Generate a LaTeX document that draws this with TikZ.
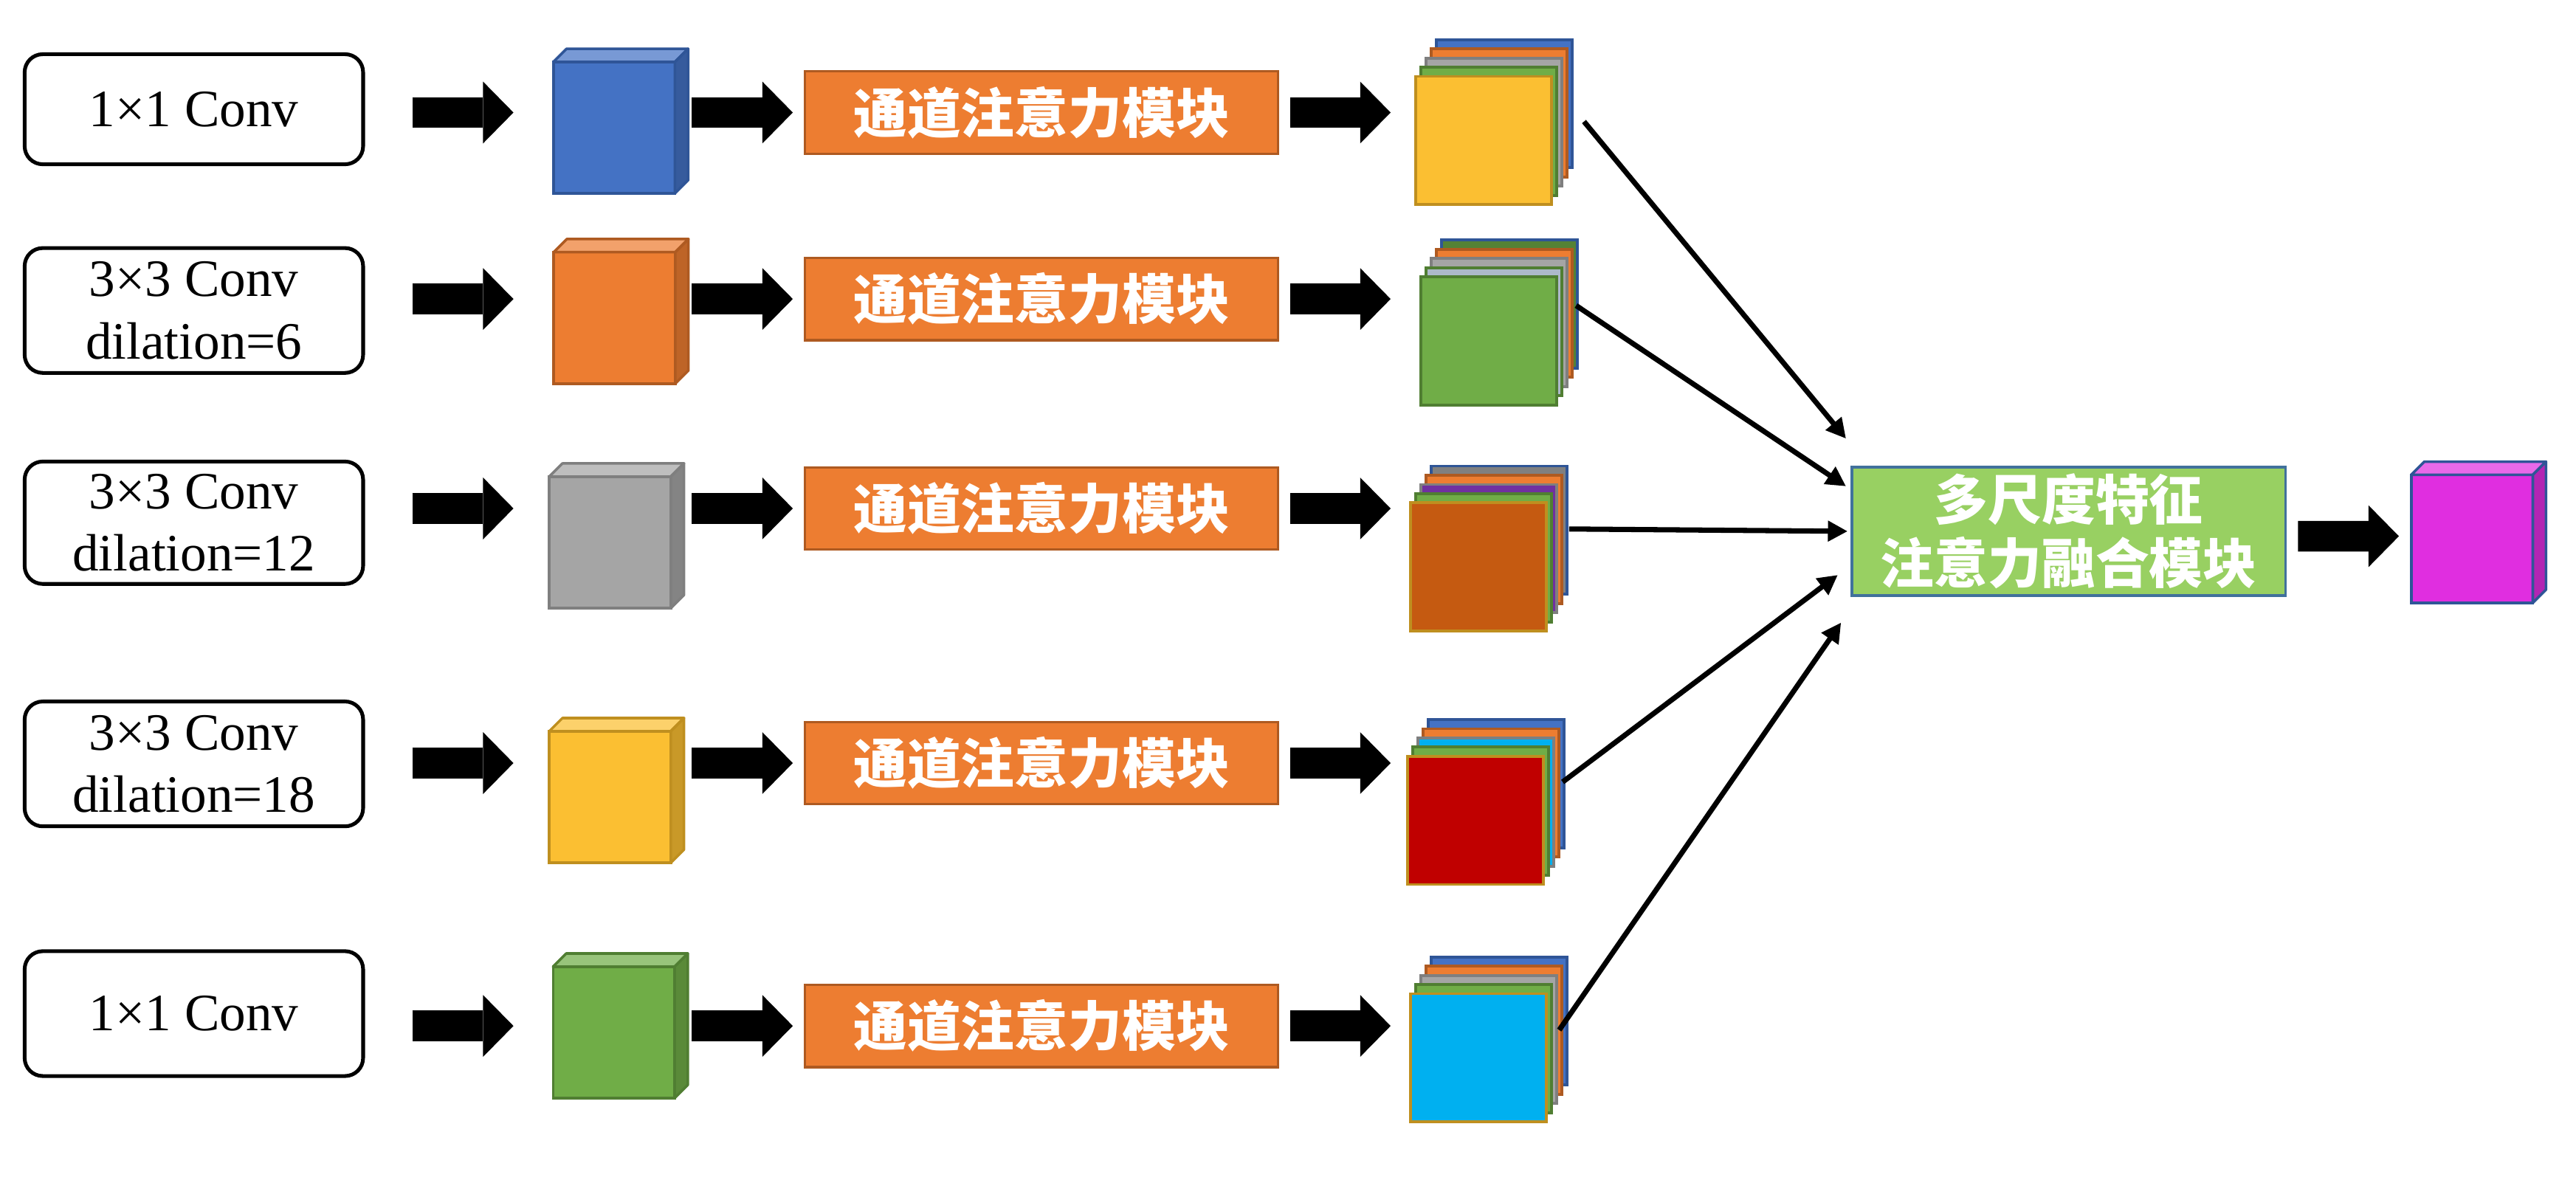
\documentclass[tikz,border=0pt]{standalone}
\usepackage{fontspec}
\setmainfont{Liberation Serif}
\newfontfamily\cjkfont{Noto Sans CJK SC}
\usetikzlibrary{arrows.meta}
\usetikzlibrary{calc}

\definecolor{cblue}{HTML}{4472C4}
\definecolor{cblueD}{HTML}{2F5597}
\definecolor{corange}{HTML}{ED7D31}
\definecolor{corangeD}{HTML}{AE5A21}
\definecolor{cgray}{HTML}{A5A5A5}
\definecolor{cgrayD}{HTML}{7F7F7F}
\definecolor{cyellow}{HTML}{FBBF32}
\definecolor{cyellowD}{HTML}{BF8F1F}
\definecolor{cgreen}{HTML}{70AD47}
\definecolor{cgreenD}{HTML}{507E32}
\definecolor{cdkgreen}{HTML}{548235}
\definecolor{csteel}{HTML}{ADB9CA}
\definecolor{cdgray}{HTML}{808080}
\definecolor{cpurple}{HTML}{7030A0}
\definecolor{cbrown}{HTML}{C55A11}
\definecolor{ccyan}{HTML}{00B0F0}
\definecolor{cred}{HTML}{C00000}
\definecolor{cmagenta}{HTML}{E02EE0}
\definecolor{fusegreen}{HTML}{98D062}
\definecolor{fuseedge}{HTML}{41719C}

\tikzset{%
  convbox/.style={draw=black, line width=0.65pt, rounded corners=1.1mm, minimum width=20.6mm,
    inner sep=0pt, outer sep=0pt, align=center, font=\fontsize{9.1pt}{10.8pt}\selectfont},
  attbox/.style={fill=corange, draw=corangeD, line width=0.4pt, minimum width=28.82mm,
    minimum height=5.02mm, inner sep=0pt, outer sep=0pt, text=white,
    font=\cjkfont\bfseries\fontsize{9.3pt}{11pt}\selectfont},
  fusebox/.style={fill=fusegreen, draw=fuseedge, line width=0.5pt, minimum width=26.4mm,
    minimum height=7.8mm, inner sep=0pt, outer sep=0pt, align=center, text=white,
    font=\cjkfont\bfseries\fontsize{9.3pt}{11pt}\selectfont},
  cubefront/.style={line width=0.45pt, minimum width=7.4mm, minimum height=8mm,
    inner sep=0pt, outer sep=0pt},
  layer/.style={line width=0.5pt, minimum width=8.25mm, minimum height=7.8mm,
    inner sep=0pt, outer sep=0pt},
  bigarrow/.style={line width=1.87mm, -{Triangle[length=1.85mm, width=3.76mm, line width=0pt]}},
  fuseline/.style={line width=0.9pt, -{Triangle[length=1.2mm, width=1.2mm]}}
}

% top and side faces of a cube whose front face is a node
\newcommand{\cubefaces}[3]{%
  \filldraw[fill=#2!72!white, draw=#3, line width=0.45pt, line join=round]
    (#1.north west) -- ([shift={(8,-8)}]#1.north west) -- ([shift={(8,-8)}]#1.north east)
    -- (#1.north east) -- cycle;
  \filldraw[fill=#2!80!black, draw=#3, line width=0.45pt, line join=round]
    (#1.north east) -- ([shift={(8,-8)}]#1.north east) -- ([shift={(8,-8)}]#1.south east)
    -- (#1.south east) -- cycle;
}

% five feature maps, back to front; the front one is #1-4
\newcommand{\featstack}[4]{%
  \foreach \f/\d [count=\k from 0] in {#4}
    \node[layer, fill=\f, draw=\d] (#1-\k) at ({#2+3.15*(4-\k)}, {#3-5.6*(4-\k)}) {};
}

\begin{document}
\begin{tikzpicture}[x=0.1mm, y=-0.1mm]
  \useasboundingbox (0,0) rectangle (1567.8,719.7);

  % convolutions
  \node[convbox, minimum height=6.7mm] (conv1) at (118,66.5) {1×1 Conv};
  \node[convbox, minimum height=7.6mm] (conv2) at (118,189) {3×3 Conv\\dilation=6};
  \node[convbox, minimum height=7.45mm] (conv3) at (118,318.2) {3×3 Conv\\dilation=12};
  \node[convbox, minimum height=7.6mm] (conv4) at (118,465) {3×3 Conv\\dilation=18};
  \node[convbox, minimum height=7.6mm] (conv5) at (118,617) {1×1 Conv};

  % feature cubes
  \node[cubefront, fill=cblue, draw=cblueD] (cube1) at (373.8,77.7) {};
  \cubefaces{cube1}{cblue}{cblueD}
  \node[cubefront, fill=corange, draw=corangeD] (cube2) at (374,193.5) {};
  \cubefaces{cube2}{corange}{corangeD}
  \node[cubefront, fill=cgray, draw=cgrayD] (cube3) at (371.3,330.1) {};
  \cubefaces{cube3}{cgray}{cgrayD}
  \node[cubefront, fill=cyellow, draw=cyellowD] (cube4) at (371.3,485.1) {};
  \cubefaces{cube4}{cyellow}{cyellowD}
  \node[cubefront, fill=cgreen, draw=cgreenD] (cube5) at (373.6,628.4) {};
  \cubefaces{cube5}{cgreen}{cgreenD}

  % channel attention
  \node[attbox] (att1) at (633.9,68.5) {通道注意力模块};
  \node[attbox] (att2) at (633.9,182) {通道注意力模块};
  \node[attbox] (att3) at (633.9,309.5) {通道注意力模块};
  \node[attbox] (att4) at (633.9,464.5) {通道注意力模块};
  \node[attbox] (att5) at (633.9,624.5) {通道注意力模块};

  % weighted feature maps
  \featstack{s1}{903}{85.5}{cblue/cblueD, corange/corangeD, cgray/cgrayD, cgreen/cgreenD, cyellow/cyellowD}
  \featstack{s2}{906}{207.5}{cdkgreen/cblueD, corange/corangeD, cgray/cgrayD, csteel/cgreenD, cgreen/cgreenD}
  \featstack{s3}{899.8}{345.1}{cdgray/cblueD, corange/corangeD, cpurple/cgrayD, cgreen/cgreenD, cbrown/cyellowD}
  \featstack{s4}{898}{499.4}{cblue/cblueD, corange/corangeD, ccyan/cgrayD, cgreen/cgreenD, cred/cyellowD}
  \featstack{s5}{899.8}{643.9}{cblue/cblueD, corange/corangeD, cgray/cgrayD, cgreen/cgreenD, ccyan/cyellowD}

  % fusion and output
  \node[fusebox] (fuse) at (1259,323.4) {多尺度特征\\注意力融合模块};
  \node[cubefront, minimum height=7.8mm, fill=cmagenta, draw=cblueD] (out) at (1504.5,328) {};
  \cubefaces{out}{cmagenta}{cblueD}

  % block arrows
  \draw[bigarrow] ([xshift=3mm]conv1.east |- att1.west) -- ([xshift=-2.43mm]cube1.west |- att1.west);
  \draw[bigarrow] ([xshift=3mm]conv2.east |- att2.west) -- ([xshift=-2.45mm]cube2.west |- att2.west);
  \draw[bigarrow] ([xshift=3mm]conv3.east |- att3.west) -- ([xshift=-2.18mm]cube3.west |- att3.west);
  \draw[bigarrow] ([xshift=3mm]conv4.east |- att4.west) -- ([xshift=-2.18mm]cube4.west |- att4.west);
  \draw[bigarrow] ([xshift=3mm]conv5.east |- att5.west) -- ([xshift=-2.41mm]cube5.west |- att5.west);

  \draw[bigarrow] ([xshift=1.02mm]cube1.east |- att1.west) -- ([xshift=-0.73mm]att1.west);
  \draw[bigarrow] ([xshift=1.0mm]cube2.east |- att2.west) -- ([xshift=-0.73mm]att2.west);
  \draw[bigarrow] ([xshift=1.27mm]cube3.east |- att3.west) -- ([xshift=-0.73mm]att3.west);
  \draw[bigarrow] ([xshift=1.27mm]cube4.east |- att4.west) -- ([xshift=-0.73mm]att4.west);
  \draw[bigarrow] ([xshift=1.04mm]cube5.east |- att5.west) -- ([xshift=-0.73mm]att5.west);

  \draw[bigarrow] ([xshift=0.73mm]att1.east) -- ([xshift=-1.54mm]s1-4.west |- att1.east);
  \draw[bigarrow] ([xshift=0.73mm]att2.east) -- ([xshift=-1.84mm]s2-4.west |- att2.east);
  \draw[bigarrow] ([xshift=0.73mm]att3.east) -- ([xshift=-1.22mm]s3-4.west |- att3.east);
  \draw[bigarrow] ([xshift=0.73mm]att4.east) -- ([xshift=-1.04mm]s4-4.west |- att4.east);
  \draw[bigarrow] ([xshift=0.73mm]att5.east) -- ([xshift=-1.22mm]s5-4.west |- att5.east);

  \draw[bigarrow] ([xshift=0.76mm, yshift=-0.3mm]fuse.east) -- ([xshift=-0.75mm, yshift=0.16mm]out.west);

  % into the fusion module
  \draw[fuseline] ([xshift=1.98mm, yshift=1.15mm]s1-4.east) -- ([xshift=-0.35mm, yshift=5.64mm]fuse.west);
  \draw[fuseline] ([xshift=1.2mm, yshift=2.15mm]s2-4.east) -- ([xshift=-0.35mm, yshift=2.74mm]fuse.west);
  \draw[fuseline] ([xshift=1.39mm, yshift=2.31mm]s3-4.east) -- ([xshift=-0.25mm]fuse.west);
  \draw[fuseline] ([xshift=1.18mm, yshift=2.34mm]s4-4.east) -- ([xshift=-0.85mm, yshift=-2.66mm]fuse.west);
  \draw[fuseline] ([xshift=0.79mm, yshift=1.69mm]s5-4.east) -- ([xshift=-0.65mm, yshift=-5.56mm]fuse.west);
\end{tikzpicture}
\end{document}
